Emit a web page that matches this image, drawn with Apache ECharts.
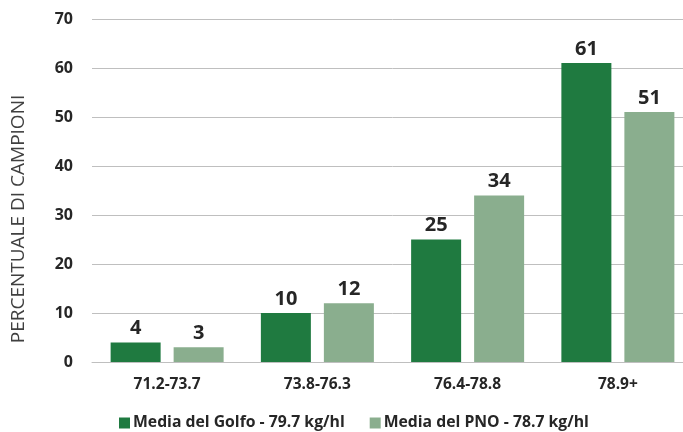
<!DOCTYPE html>
<html>
<head>
<meta charset="utf-8">
<script src="https://cdn.jsdelivr.net/npm/echarts@6/dist/echarts.min.js"></script>
<style>
  html, body { margin: 0; padding: 0; background: #fff; overflow: hidden; }
  #chart { width: 693px; height: 432px; }
</style>
</head>
<body>
<div id="chart"></div>
<script>
// Test weight classes (kg/hl) and share of samples in each class
const categories = ['71.2-73.7', '73.8-76.3', '76.4-78.8', '78.9+'];
const golfoName = 'Media del Golfo - 79.7 kg/hl';
const pnoName = 'Media del PNO - 78.7 kg/hl';
const golfoValues = [4, 10, 25, 61];
const pnoValues = [3, 12, 34, 51];
const yTicks = { min: 0, max: 70, interval: 10 };

const FONT = '"Open Sans", sans-serif';
const TEXT = '#262626';

const chart = echarts.init(document.getElementById('chart'));
chart.setOption({
  animation: false,
  textStyle: { fontFamily: FONT },
  grid: { left: 92, right: 0, top: 19, bottom: 70 },
  legend: {
    left: 114, top: 410,
    itemWidth: 11, itemHeight: 11, itemGap: 25,
    icon: 'rect',
    textStyle: { fontFamily: FONT, fontWeight: 'bold', fontSize: 15.75, color: TEXT, padding: [0, 0, 0, -2] },
    data: [golfoName, pnoName]
  },
  xAxis: {
    type: 'category',
    data: categories,
    axisTick: { show: false },
    axisLine: { lineStyle: { color: '#bfbfbf', width: 1 } },
    axisLabel: { fontFamily: FONT, fontWeight: 'bold', fontSize: 15.5, color: TEXT, margin: 15 }
  },
  yAxis: {
    type: 'value',
    min: yTicks.min, max: yTicks.max, interval: yTicks.interval,
    axisLine: { show: false },
    axisTick: { show: false },
    splitLine: { lineStyle: { color: '#bfbfbf', width: 1 } },
    axisLabel: { fontFamily: FONT, fontWeight: 'bold', fontSize: 16, color: TEXT, margin: 19 }
  },
  graphic: [{
    type: 'text',
    x: 19, y: 219,
    rotation: Math.PI / 2,
    style: {
      text: 'PERCENTUALE DI CAMPIONI',
      fontFamily: FONT, fontSize: 19, fill: '#404040',
      align: 'center', verticalAlign: 'middle'
    }
  }],
  series: [
    {
      name: golfoName, type: 'bar', data: golfoValues,
      barWidth: 50, barGap: '26%',
      itemStyle: { color: '#1f7a40' },
      label: { show: true, position: 'top', distance: 4, fontFamily: FONT, fontWeight: 'bold', fontSize: 20, color: TEXT }
    },
    {
      name: pnoName, type: 'bar', data: pnoValues,
      barWidth: 50,
      itemStyle: { color: '#8aae8e' },
      label: { show: true, position: 'top', distance: 4, fontFamily: FONT, fontWeight: 'bold', fontSize: 20, color: TEXT }
    }
  ]
});
</script>
</body>
</html>
